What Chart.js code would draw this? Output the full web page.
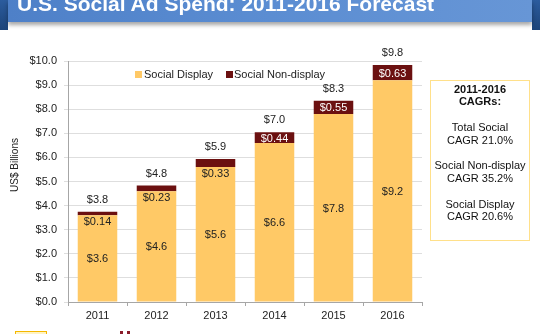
<!DOCTYPE html>
<html>
<head>
<meta charset="utf-8">
<script src="https://cdn.jsdelivr.net/npm/chart.js@4.4.1/dist/chart.umd.min.js"></script>
<style>
  body { margin: 0; background: #fff; font-family: "Liberation Sans", Arial, sans-serif; }
  #wrap { position: relative; width: 540px; height: 334px; overflow: hidden; }
  #banner { position: absolute; left: 0; top: 0; width: 540px; height: 30px; }
  #banner .edgeL { position: absolute; left: 0; top: 0; width: 8px; height: 30px; background: linear-gradient(#2c5c9e, #1d4479); }
  #banner .edgeR { position: absolute; right: 0; top: 0; width: 8px; height: 30px; background: linear-gradient(#2c5c9e, #1d4479); }
  #banner .main { position: absolute; left: 8px; top: 0; width: 524px; height: 22px;
    background: linear-gradient(90deg, #4e80c8 0%, #5b8dd2 50%, #6796d6 100%);
    box-shadow: 0 3px 4px rgba(0,0,0,0.35); }
  #banner .title { position: absolute; left: 17px; top: -8px; color: #fff; font-weight: bold; font-size: 21px; white-space: nowrap; }
  #cagr { position: absolute; left: 430px; top: 80px; width: 98px; height: 157px; border: 1.5px solid #ffe08a;
    text-align: center; font-size: 11px; line-height: 12.8px; color: #111; padding-top: 1.5px; box-sizing: content-box; }
  #cagr b { font-weight: bold; }
  #logo { position: absolute; left: 15px; top: 331px; width: 30px; height: 6px; border: 1px solid #f5b800; background: #fff3c4; }
  .dot { position: absolute; top: 331px; width: 3px; height: 4px; background: #8a1c2a; }
  canvas { position: absolute; left: 0; top: 0; }
</style>
</head>
<body>
<div id="wrap">
  <canvas id="adChart" width="540" height="334"></canvas>
  <div id="banner">
    <div class="edgeL"></div>
    <div class="edgeR"></div>
    <div class="main"></div>
    <div class="title">U.S. Social Ad Spend: 2011-2016 Forecast</div>
  </div>
  <div id="cagr">
    <b>2011-2016<br>CAGRs:</b><br><br>
    Total Social<br>CAGR 21.0%<br><br>
    Social Non-display<br>CAGR 35.2%<br><br>
    Social Display<br>CAGR 20.6%
  </div>
  <div id="logo"></div>
  <div class="dot" style="left:120px"></div>
  <div class="dot" style="left:127px"></div>
</div>
<script>
// Data
const years = ['2011', '2012', '2013', '2014', '2015', '2016'];
const socialDisplay = [3.6, 4.6, 5.6, 6.6, 7.8, 9.2];
const socialNonDisplay = [0.14, 0.23, 0.33, 0.44, 0.55, 0.63];
const totalLabels = ['$3.8', '$4.8', '$5.9', '$7.0', '$8.3', '$9.8'];
const displayLabels = ['$3.6', '$4.6', '$5.6', '$6.6', '$7.8', '$9.2'];
const nonDisplayLabels = ['$0.14', '$0.23', '$0.33', '$0.44', '$0.55', '$0.63'];

const FONT = '"Liberation Sans", Arial, sans-serif';
const yellow = '#ffc966';
const maroon = '#6b1010';

// value labels on the bars
const barLabels = {
    id: 'barLabels',
    afterDatasetsDraw(chart) {
        const ctx = chart.ctx;
        const m0 = chart.getDatasetMeta(0);
        const m1 = chart.getDatasetMeta(1);
        ctx.save();
        ctx.font = '11px ' + FONT;
        ctx.textAlign = 'center';
        ctx.textBaseline = 'middle';
        m0.data.forEach((bar, i) => {
            ctx.fillStyle = '#222';
            ctx.fillText(displayLabels[i], bar.x, (bar.y + bar.base) / 2 + 1);
            const top = m1.data[i];
            const h = top.base - top.y;
            if (h >= 10) {
                ctx.fillStyle = '#fff';
                ctx.fillText(nonDisplayLabels[i], top.x, (top.y + top.base) / 2 + 1);
            } else {
                ctx.fillStyle = '#222';
                ctx.fillText(nonDisplayLabels[i], top.x, top.base + 7);
            }
            ctx.fillStyle = '#222';
            ctx.fillText(totalLabels[i], top.x, top.y - 12);
        });
        ctx.restore();
    },
    afterDraw(chart) {
        const ctx = chart.ctx;
        const a = chart.chartArea;
        ctx.save();
        // legend inside the plot
        ctx.font = '11px ' + FONT;
        ctx.textBaseline = 'middle';
        ctx.textAlign = 'left';
        const ly = a.top + 13.5;
        ctx.fillStyle = yellow;
        ctx.fillRect(a.left + 67, ly - 3.5, 7, 7);
        ctx.fillStyle = '#222';
        ctx.fillText('Social Display', a.left + 76, ly);
        ctx.fillStyle = maroon;
        ctx.fillRect(a.left + 158, ly - 3.5, 7, 7);
        ctx.fillStyle = '#222';
        ctx.fillText('Social Non-display', a.left + 166, ly);
        // y axis title
        ctx.translate(15, a.top + 104);
        ctx.rotate(-Math.PI / 2);
        ctx.textAlign = 'center';
        ctx.font = '10px ' + FONT;
        ctx.fillText('US$ Billions', 0, 0);
        ctx.restore();
    }
};

new Chart(document.getElementById('adChart').getContext('2d'), {
    type: 'bar',
    data: {
        labels: years,
        datasets: [
            {
                label: 'Social Display',
                data: socialDisplay,
                backgroundColor: yellow,
                borderWidth: 0,
                barPercentage: 0.67,
                categoryPercentage: 1
            },
            {
                label: 'Social Non-display',
                data: socialNonDisplay,
                backgroundColor: maroon,
                borderWidth: 0,
                barPercentage: 0.67,
                categoryPercentage: 1
            }
        ]
    },
    options: {
        responsive: false,
        animation: false,
        layout: { padding: { left: 0, right: 118, top: 61, bottom: 0 } },
        plugins: {
            legend: { display: false },
            tooltip: { enabled: false }
        },
        scales: {
            x: {
                stacked: true,
                grid: { drawOnChartArea: false, tickLength: 4, color: '#a6a6a6' },
                border: { color: '#a6a6a6' },
                ticks: { color: '#222', font: { size: 11, family: FONT }, padding: 3 },
                afterFit(scale) { scale.height = 32; }
            },
            y: {
                stacked: true,
                min: 0,
                max: 10,
                grid: { color: '#dedede', tickLength: 4 },
                border: { color: '#a6a6a6' },
                ticks: {
                    stepSize: 1,
                    color: '#222',
                    font: { size: 11, family: FONT },
                    padding: 7,
                    callback: v => '$' + v.toFixed(1)
                },
                afterFit(scale) { scale.width = 68; }
            }
        }
    },
    plugins: [barLabels]
});
</script>
</body>
</html>
